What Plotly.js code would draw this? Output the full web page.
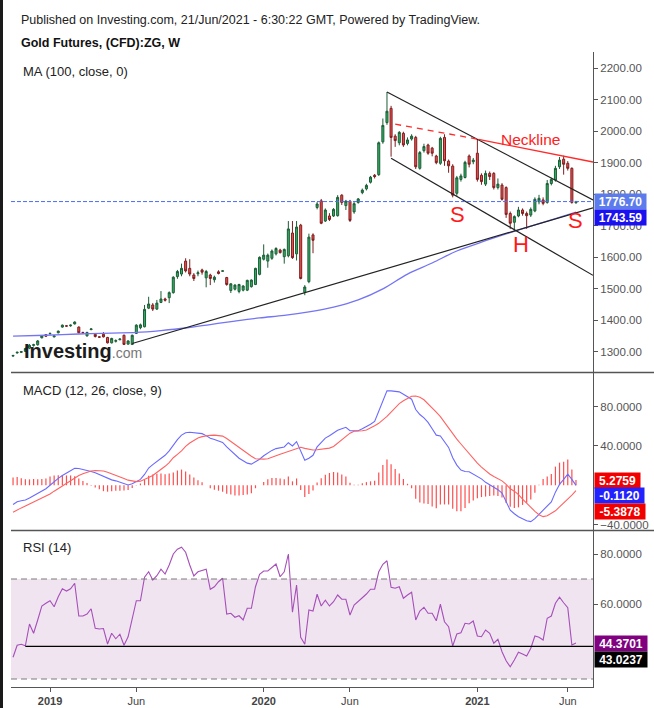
<!DOCTYPE html>
<html><head><meta charset="utf-8">
<script src="https://cdn.plot.ly/plotly-3.0.1.min.js"></script>
<style>html,body{margin:0;padding:0;background:#fff}#chart{width:654px;height:708px}</style>
</head><body><div id="chart"></div>
<script>
// ---- weekly bars (Monday starts), first bar 2018-11-05, 138 bars ----
const firstWeek = '2018-11-05';
const nWeeks = 138;
const weeks = [];
for (let i = 0; i < nWeeks; i++) {
  weeks.push(new Date(Date.parse(firstWeek + 'T00:00:00Z') + i * 7 * 864e5).toISOString().slice(0, 10));
}

const open = [
1287,1297,1299,1302,1312,1321,1323,1345,1355,1358,
1348,1361,1379,1383,1383,1389,1379,1362,1351,1371,
1356,1348,1356,1346,1329,1334,1339,1353,1325,1324,
1359,1377,1380,1439,1449,1436,1457,1468,1472,1488,
1539,1547,1588,1565,1544,1548,1560,1535,1544,1529,
1554,1556,1536,1495,1499,1492,1496,1496,1507,1514,
1546,1594,1588,1597,1611,1623,1602,1605,1677,1611,
1702,1489,1523,1671,1758,1779,1715,1731,1731,1732,
1797,1764,1778,1744,1774,1805,1817,1838,1860,1862,
1966,2027,2072,1984,1963,1993,1961,1975,1980,1882,
1938,1956,1946,1921,1898,1980,1905,1889,1803,1847,
1853,1921,1903,1930,1860,1832,1866,1866,1821,1829,
1821,1739,1711,1731,1750,1739,1734,1747,1776,1782,
1774,1834,1845,1887,1911,1898,1882,1773];
const high = [
1291,1301,1303,1314,1325,1326,1338,1352,1357,1361,
1353,1368,1387,1385,1387,1397,1381,1364,1364,1375,
1360,1350,1363,1348,1345,1340,1343,1355,1337,1355,
1388,1390,1449,1475,1455,1465,1493,1472,1492,1540,
1560,1580,1597,1594,1550,1558,1564,1560,1548,1542,
1559,1558,1538,1518,1515,1516,1512,1529,1530,1567,
1603,1641,1612,1625,1632,1627,1628,1715,1715,1715,
1706,1512,1675,1676,1775,1785,1755,1740,1756,1797,
1800,1782,1782,1775,1788,1818,1833,1858,1864,1967,
2040,2124,2080,1990,2000,1998,1980,1990,1985,1937,
1960,1960,1950,1925,1982,1990,1910,1895,1858,1865,
1906,1926,1915,1975,1866,1875,1872,1870,1850,1835,
1825,1745,1733,1760,1755,1745,1758,1790,1798,1790,
1845,1852,1890,1918,1922,1905,1885,1779];
const low = [
1285,1295,1297,1300,1309,1317,1320,1343,1348,1355,
1346,1359,1377,1380,1380,1387,1359,1359,1349,1369,
1346,1345,1346,1327,1327,1330,1337,1322,1323,1322,
1357,1372,1378,1436,1430,1433,1455,1460,1455,1485,
1532,1540,1552,1540,1525,1540,1545,1505,1512,1520,
1546,1555,1510,1487,1495,1486,1492,1493,1504,1512,
1543,1590,1567,1592,1606,1612,1580,1600,1595,1590,
1530,1480,1518,1613,1752,1705,1712,1715,1728,1729,
1766,1750,1712,1738,1770,1800,1812,1834,1850,1858,
1960,2020,1919,1950,1955,1950,1955,1970,1880,1878,
1932,1925,1920,1895,1893,1890,1868,1790,1795,1840,
1850,1885,1895,1840,1830,1826,1845,1815,1815,1780,
1725,1690,1684,1727,1732,1690,1728,1743,1768,1765,
1770,1828,1840,1880,1862,1875,1770,1770];
const close = [
1289,1299,1301,1311,1321,1323,1335,1351,1350,1359,
1351,1366,1385,1382,1385,1395,1361,1361,1362,1373,
1349,1347,1348,1329,1343,1336,1341,1324,1335,1353,
1385,1386,1435,1452,1436,1455,1468,1464,1488,1537,
1555,1565,1557,1547,1533,1551,1553,1555,1533,1537,
1549,1557,1514,1516,1512,1514,1509,1527,1528,1565,
1600,1607,1607,1620,1628,1615,1625,1690,1599,1696,
1533,1506,1664,1654,1769,1708,1750,1720,1752,1790,
1774,1778,1717,1770,1785,1813,1828,1854,1856,1963,
2018,2063,1980,1970,1996,1956,1972,1984,1887,1932,
1951,1930,1930,1900,1977,1906,1890,1797,1852,1858,
1901,1895,1908,1847,1840,1866,1856,1821,1832,1784,
1736,1708,1729,1750,1739,1732,1752,1784,1787,1771,
1834,1847,1882,1908,1895,1882,1774,1776.7];

// 100-week MA, read at selected bars (bar index -> value)
const maIndex = [0,8,16,24,30,36,42,48,54,60,66,72,78,84,90,96,102,108,114,120,126,132,137];
const maValue = [1350,1353,1357,1360,1362,1368,1376,1387,1398,1408,1416,1427,1442,1465,1500,1547,1582,1620,1648,1674,1699,1723,1743.59];

const macdLine = [
-19.5,-16.7,-15.8,-15,-13,-10.5,-8.5,-6,-3.5,0,
4,7,10,12.5,15,17.3,17,16.2,15.5,14,
12.7,11,8.5,6.8,5.5,4.5,3,1.5,0.3,1.5,
3.5,6,11,17.5,21,24.5,28,30.5,35,41,
46.5,51,53.5,54,53.5,53,52.5,50.5,47.8,46.5,
45.3,43.5,39,35,31,27.5,25,22.5,21.5,24,
26.5,30,33,35.5,37.3,38.5,39,43.3,40,44.4,
34,25.5,27.5,30.5,39,44,48,50.3,53,56,
57.5,59,55.5,55.5,55.5,57.5,59.5,62,65,76,
87,96.2,96,95.5,95,92.5,90,87.5,77,72,
68.5,64,57.5,51,50.2,44.5,38.5,28,20.5,15.5,
14,13.8,11.5,9.3,6.5,3,0.5,-1.5,-4.5,-8,
-17,-25.3,-29,-32,-34,-36,-37,-34,-29.5,-25.5,
-22,-17,-7,1,6,11.3,6,-0.112];
const signalLine = [
-27.5,-25,-23,-21,-19,-16.8,-14.5,-12.5,-10.5,-8.9,
-6,-3.3,-0.5,2.5,5,8,10,11.8,13.3,14.6,
15,15,14.5,13.3,11.5,10,8.5,6.8,5.2,4.2,
3.7,4.2,5.6,7.8,10,12.8,16,19.3,23,28,
31.5,35,39.5,43,45.5,48,49.5,50.5,50.8,51,
50.8,50,47.5,44.5,41.5,38,35,32,29.5,27,
26.5,26.6,27,28.2,30,31.5,33,34.5,36,37.5,
38.7,37.5,36.5,35.9,36.2,36.8,37.2,37.8,39.5,43,
46.5,50,53,55,55,55.5,56.3,58,60.5,63,
66.5,70,74.5,79,83,86,88.5,90.5,90.8,89.5,
87,83,79,74.5,69.8,64,58,52,47,42,
37,32,27,22.5,18.5,14.5,11.5,9,6.5,4.5,
1,-3.5,-6,-9.5,-14,-18.3,-22.5,-26.5,-30,-31.9,
-31,-28.5,-26,-22,-18,-15,-10,-5.3878];
const macdHist = [
8,8.3,7.2,6,6,6.3,6,6.5,7,8.9,
10,10.3,10.5,10,10,9.3,7,4.4,2.2,-0.6,
-2.3,-4,-6,-6.5,-6,-5.5,-5.5,-5.3,-4.9,-2.7,
-0.2,1.8,5.4,9.7,11,11.7,12,11.2,12,13,
15,16,14,11,8,5,3,0,-3,-4.5,
-5.5,-6.5,-8.5,-9.5,-10.5,-10.5,-10,-9.5,-8,-3,
0,3.4,6,7.3,7.3,7,6,8.8,4,6.9,
-4.7,-12,-9,-5.4,2.8,7.2,10.8,12.5,13.5,13,
11,9,2.5,0.5,0.5,2,3.2,4,4.5,13,
20.5,26.2,21.5,16.5,12,6.5,1.5,-3,-13.8,-17.5,
-18.5,-19,-21.5,-23.5,-19.6,-19.5,-19.5,-24,-26.5,-26.5,
-23,-18.2,-15.5,-13.2,-12,-11.5,-11,-10.5,-11,-12.5,
-18,-21.8,-23,-22.5,-20,-17.7,-14.5,-7.5,0.5,6.4,
9,11.5,19,23,24,26.3,16,5.2759];

const rsi = [
38.7,43.5,43.9,43.3,52,48.3,53.6,59.2,60.3,61.3,
58.9,62.9,66.1,65.2,66.1,68.3,55.2,55.2,56,58.1,
50.3,50,50.2,44,48.3,46.1,47.9,43.5,46.9,53.9,
61.3,61.3,70.7,72.9,69.6,71.3,73.9,72,75.6,80,
81.9,82.7,80.7,75.6,71.2,72.9,73.3,73.9,65.9,66.9,
68.9,70.3,56,56.3,54.7,55.3,53.6,58.3,58.3,66.9,
71.9,73.2,73.2,74.5,76,70.9,72.9,80,56.7,67.6,
46.7,43.9,57.6,57.2,63.9,59.2,61.5,59.2,60.9,63.6,
61.9,61.9,55.6,59.6,60.9,62.5,64,65.9,65.9,72.9,
75.9,77.3,66.7,66.3,66.9,62.3,63.6,64.7,53.6,57.2,
58.7,56.3,56.3,53.3,59.9,52.9,50.9,43.2,48,48.5,
52.3,52,53.2,47.2,46.9,49.6,48.3,44.3,45.9,40.9,
37.3,34.9,37.6,40.7,40,39.2,42.3,47.2,46.7,45.6,
54.3,55.2,60.3,62.7,60.5,58.5,43.6,44.3701];

// chart drawings (date, value) endpoints
const xStart = '2018-11-01 12:00', xEnd = '2021-07-20';
const upTrendX = ['2019-05-27', xEnd], upTrendY = [1327, 1757];
const chanUpX = ['2020-08-03', xEnd], chanUpY = [2124, 1782];
const chanLoX = ['2020-08-10', xEnd], chanLoY = [1914, 1543];
const neckDashX = ['2020-08-17', '2021-01-06'], neckDashY = [2022, 1974];
const neckX = ['2021-01-06', xEnd], neckY = [1974, 1902];
const lastPrice = 1776.70, lastMA = 1743.59;
const rsiSupport = 43.0237, rsiSupportFrom = '2018-11-26';
const tickDates = ['2019-01-07','2019-06-03','2020-01-06','2020-06-01','2021-01-04','2021-06-07'];
const tickText = ['<b>2019</b>','Jun','<b>2020</b>','Jun','<b>2021</b>','Jun'];

const F = 'Arial, "Liberation Sans", sans-serif';
const maX = maIndex.map(i => weeks[i]);
const W = 654, H = 708;
const px = v => v / W, py = v => (H - v) / H;

// histogram drawn as thin vertical stems from the zero line
const histX = [], histY = [];
weeks.forEach((d, i) => { histX.push(d, d, null); histY.push(0, macdHist[i], null); });

const traces = [
  {type:'candlestick', x:weeks, open:open, high:high, low:low, close:close, xaxis:'x', yaxis:'y',
   increasing:{line:{color:'#1d5c36', width:1}, fillcolor:'#2fae62'},
   decreasing:{line:{color:'#7d1e1e', width:1}, fillcolor:'#f04e4e'},
   whiskerwidth:0, hoverinfo:'skip', showlegend:false},
  {type:'scatter', mode:'lines', x:maX, y:maValue, yaxis:'y', line:{color:'#7474f4', width:1.3, shape:'spline'}, showlegend:false, hoverinfo:'skip'},
  {type:'scatter', mode:'lines', x:upTrendX, y:upTrendY, yaxis:'y', line:{color:'#222', width:1.2}, showlegend:false, hoverinfo:'skip'},
  {type:'scatter', mode:'lines', x:chanUpX, y:chanUpY, yaxis:'y', line:{color:'#222', width:1.2}, showlegend:false, hoverinfo:'skip'},
  {type:'scatter', mode:'lines', x:chanLoX, y:chanLoY, yaxis:'y', line:{color:'#222', width:1.2}, showlegend:false, hoverinfo:'skip'},
  {type:'scatter', mode:'lines', x:neckDashX, y:neckDashY, yaxis:'y', line:{color:'#ff2a2a', width:1.3, dash:'6px,5px'}, showlegend:false, hoverinfo:'skip'},
  {type:'scatter', mode:'lines', x:neckX, y:neckY, yaxis:'y', line:{color:'#ff2a2a', width:1.3}, showlegend:false, hoverinfo:'skip'},
  {type:'scatter', mode:'lines', x:histX, y:histY, yaxis:'y2', connectgaps:false, line:{color:'#ff4d4d', width:1.2}, showlegend:false, hoverinfo:'skip'},
  {type:'scatter', mode:'lines', x:weeks, y:macdLine, yaxis:'y2', line:{color:'#6a6aff', width:1.1}, showlegend:false, hoverinfo:'skip'},
  {type:'scatter', mode:'lines', x:weeks, y:signalLine, yaxis:'y2', line:{color:'#ff6262', width:1.1}, showlegend:false, hoverinfo:'skip'},
  {type:'scatter', mode:'lines', x:weeks, y:rsi, yaxis:'y3', line:{color:'#a64fb9', width:1.1}, showlegend:false, hoverinfo:'skip'}
];

const axY = {side:'right', showgrid:false, zeroline:false, showline:true, linecolor:'#555', linewidth:1,
  ticks:'outside', ticklen:4, tickcolor:'#555', tickfont:{family:F, size:11.5, color:'#555'}, anchor:'x', fixedrange:true};

const layout = {
  width:W, height:H, margin:{l:0, r:0, t:0, b:0}, paper_bgcolor:'#fff', plot_bgcolor:'#fff',
  showlegend:false, boxgap:0.3,
  font:{family:F},
  xaxis:{type:'date', domain:[px(11), px(593)], range:[xStart, xEnd], anchor:'y3',
    tickvals:tickDates, ticktext:tickText, tickfont:{family:F, size:11, color:'#444'},
    ticks:'outside', ticklen:4, tickcolor:'#555', showline:true, linecolor:'#555', linewidth:1,
    showgrid:false, zeroline:false, rangeslider:{visible:false}, fixedrange:true},
  yaxis:Object.assign({}, axY, {domain:[py(372), py(52)], range:[1236.6, 2250.7],
    tickvals:[1300,1400,1500,1600,1700,1800,1900,2000,2100,2200], tickformat:'.2f'}),
  yaxis2:Object.assign({}, axY, {domain:[py(530), py(373)], range:[-45.5, 114.2],
    tickvals:[-40,40,80], tickformat:'.4f'}),
  yaxis3:Object.assign({}, axY, {domain:[py(687), py(531)], range:[26.8, 89.2],
    tickvals:[60,80], tickformat:'.4f'}),
  shapes:[
    {type:'rect', xref:'x domain', yref:'y3', x0:0, x1:1, y0:30, y1:70, fillcolor:'#f0e4f1', line:{width:0}, layer:'below'},
    {type:'line', xref:'x domain', yref:'y3', x0:0, x1:1, y0:70, y1:70, line:{color:'#7a7a7a', width:1, dash:'6px,4px'}},
    {type:'line', xref:'x domain', yref:'y3', x0:0, x1:1, y0:30, y1:30, line:{color:'#7a7a7a', width:1, dash:'6px,4px'}},
    {type:'line', xref:'x', yref:'y3', x0:rsiSupportFrom, x1:xEnd, y0:rsiSupport, y1:rsiSupport, line:{color:'#000', width:1.2}},
    {type:'line', xref:'x domain', yref:'y', x0:0, x1:1, y0:lastPrice, y1:lastPrice, line:{color:'#4a6cff', width:1, dash:'4px,2px'}},
    {type:'line', xref:'paper', yref:'paper', x0:px(11), x1:1, y0:py(372.5), y1:py(372.5), line:{color:'#555', width:1.5}},
    {type:'line', xref:'paper', yref:'paper', x0:px(11), x1:1, y0:py(530.5), y1:py(530.5), line:{color:'#555', width:1.5}},
    {type:'rect', xref:'paper', yref:'paper', x0:0, x1:px(3), y0:0, y1:1, fillcolor:'#1a1a1a', line:{width:0}}
  ],
  annotations:[
    {xref:'paper', yref:'paper', x:px(19), y:py(20), xanchor:'left', yanchor:'middle', showarrow:false,
     text:'Published on Investing.com, 21/Jun/2021 - 6:30:22 GMT, Powered by TradingView.', font:{family:F, size:12.5, color:'#222'}},
    {xref:'paper', yref:'paper', x:px(19), y:py(43), xanchor:'left', yanchor:'middle', showarrow:false,
     text:'<b>Gold Futures, (CFD):ZG, W</b>', font:{family:F, size:12.5, color:'#111'}},
    {xref:'paper', yref:'paper', x:px(21), y:py(72), xanchor:'left', yanchor:'middle', showarrow:false,
     text:'MA (100, close, 0)', font:{family:F, size:13, color:'#222'}},
    {xref:'paper', yref:'paper', x:px(21), y:py(390), xanchor:'left', yanchor:'middle', showarrow:false,
     text:'MACD (12, 26, close, 9)', font:{family:F, size:13, color:'#222'}},
    {xref:'paper', yref:'paper', x:px(21), y:py(547), xanchor:'left', yanchor:'middle', showarrow:false,
     text:'RSI (14)', font:{family:F, size:13, color:'#222'}},
    {xref:'paper', yref:'paper', x:px(22), y:py(351), xanchor:'left', yanchor:'middle', showarrow:false,
     text:'<b>Investing</b><span style="font-size:14px;color:#777">.com</span>', font:{family:F, size:20, color:'#1c1c1c'}},
    {xref:'x', yref:'y', x:'2021-04-05', y:1975, showarrow:false, text:'Neckline', font:{family:F, size:15.5, color:'#ff2020'}},
    {xref:'x', yref:'y', x:'2020-12-01', y:1737, showarrow:false, text:'S', font:{family:F, size:22, color:'#ff1a1a'}},
    {xref:'x', yref:'y', x:'2021-03-20', y:1642, showarrow:false, text:'H', font:{family:F, size:22, color:'#ff1a1a'}},
    {xref:'x', yref:'y', x:'2021-06-21', y:1716, showarrow:false, text:'S', font:{family:F, size:22, color:'#ff1a1a'}},
    // right-side value labels
    {xref:'paper', yref:'y', x:px(594), y:lastPrice, xanchor:'left', yanchor:'middle', showarrow:false, width:49, height:13,
     text:'<b>1776.70</b>', bgcolor:'#5c7cec', font:{family:F, size:12, color:'#fff'}},
    {xref:'paper', yref:'y', x:px(594), y:lastMA, yshift:-5, xanchor:'left', yanchor:'middle', showarrow:false, width:49, height:13,
     text:'<b>1743.59</b>', bgcolor:'#1a10f0', font:{family:F, size:12, color:'#fff'}},
    {xref:'paper', yref:'y2', x:px(594), y:5.2759, xanchor:'left', yanchor:'middle', showarrow:false, width:43, height:13,
     text:'<b>5.2759</b>', bgcolor:'#f20000', font:{family:F, size:12, color:'#fff'}},
    {xref:'paper', yref:'y2', x:px(594), y:-0.112, yshift:-10, xanchor:'left', yanchor:'middle', showarrow:false, width:47, height:13,
     text:'<b>-0.1120</b>', bgcolor:'#2222ff', font:{family:F, size:12, color:'#fff'}},
    {xref:'paper', yref:'y2', x:px(594), y:-5.3878, yshift:-21, xanchor:'left', yanchor:'middle', showarrow:false, width:48, height:13,
     text:'<b>-5.3878</b>', bgcolor:'#f20000', font:{family:F, size:12, color:'#fff'}},
    {xref:'paper', yref:'y3', x:px(594), y:44.3701, xanchor:'left', yanchor:'middle', showarrow:false, width:50, height:13,
     text:'<b>44.3701</b>', bgcolor:'#800080', font:{family:F, size:12, color:'#fff'}},
    {xref:'paper', yref:'y3', x:px(594), y:rsiSupport, yshift:-13, xanchor:'left', yanchor:'middle', showarrow:false, width:50, height:13,
     text:'<b>43.0237</b>', bgcolor:'#000', font:{family:F, size:12, color:'#fff'}}
  ]
};

Plotly.newPlot('chart', traces, layout, {staticPlot:true, displayModeBar:false});
</script>
</body></html>
